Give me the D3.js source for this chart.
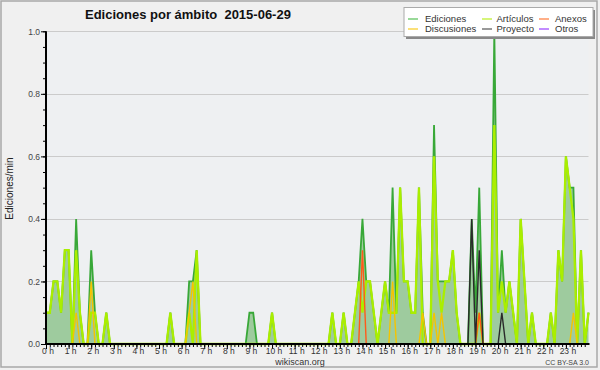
<!DOCTYPE html>
<html><head><meta charset="utf-8">
<script src="https://cdn.jsdelivr.net/npm/d3@7"></script>
<style>
html,body{margin:0;padding:0;background:#f0f0f0;}
svg{display:block;}
text{font-family:"Liberation Sans",Arial,sans-serif;}
</style></head>
<body>
<svg id="chart" width="600" height="370"></svg>
<script>
// 10-minute bins, 00:00 .. 24:00 (145 points), edits per minute
const ediciones = [
 0.1,0.1,0.2,0.2,0.1,0.3,  0.3,0,0.4,0.1,0,0,  0.3,0.1,0,0,0.1,0,  0,0,0,0,0,0,
 0,0,0,0,0,0,  0,0,0,0.1,0,0,  0,0,0.2,0.2,0.3,0,  0,0,0,0,0,0,
 0,0,0,0,0,0,  0.1,0.1,0,0,0,0,  0.1,0,0,0,0,0,  0,0,0,0,0,0,
 0,0,0,0,0.1,0,  0,0.1,0,0,0.1,0.2,  0.4,0.2,0.2,0.1,0,0.1,  0.2,0.1,0.5,0.1,0.5,0.2,
 0.2,0.1,0.1,0.5,0.1,0,  0,0.7,0.2,0.2,0.2,0.2,  0.3,0.1,0,0,0,0.4,  0.1,0.5,0,0,0,1.0,
 0.1,0.3,0.1,0.2,0.1,0,  0.4,0.2,0,0.1,0,0,  0,0,0.1,0,0.3,0.2,  0.6,0.5,0.5,0,0.3,0,
 0.1];
const articulos = [
 0.1,0.1,0.2,0.2,0.1,0.3,  0.3,0,0.3,0.1,0,0,  0.1,0.1,0,0,0.1,0,  0,0,0,0,0,0,
 0,0,0,0,0,0,  0,0,0,0.1,0,0,  0,0,0.1,0,0.3,0,  0,0,0,0,0,0,
 0,0,0,0,0,0,  0,0,0,0,0,0,  0.1,0,0,0,0,0,  0,0,0,0,0,0,
 0,0,0,0,0.1,0,  0,0.1,0,0,0.1,0.2,  0.1,0.2,0.2,0.1,0,0.1,  0.2,0.1,0.1,0.1,0.5,0.2,
 0.2,0.1,0.1,0.5,0,0,  0,0.6,0.2,0.1,0.2,0.2,  0.3,0.1,0,0,0,0,  0,0.1,0,0,0,0.7,
 0.1,0.2,0.1,0.2,0.1,0,  0.4,0.2,0,0.1,0,0,  0,0,0.1,0,0.3,0.2,  0.6,0.5,0.4,0,0.3,0,
 0.1];
const discusiones = [
 0,0,0,0,0,0,  0,0,0.1,0,0,0,  0.2,0,0,0,0,0,  0,0,0,0,0,0,
 0,0,0,0,0,0,  0,0,0,0,0,0,  0,0,0.1,0.2,0,0,  0,0,0,0,0,0,
 0,0,0,0,0,0,  0,0,0,0,0,0,  0,0,0,0,0,0,  0,0,0,0,0,0,
 0,0,0,0,0,0,  0,0,0,0,0,0,  0,0,0,0,0,0,  0,0,0.2,0,0,0,
 0,0,0,0,0.1,0,  0,0.1,0,0.1,0,0,  0,0,0,0,0,0,  0,0,0,0,0,0,
 0,0,0,0,0,0,  0,0,0,0,0,0,  0,0,0,0,0,0,  0,0,0.1,0,0,0,
 0];
const anexos = [
 0,0,0,0,0,0,  0,0,0,0,0,0,  0,0,0,0,0,0,  0,0,0,0,0,0,
 0,0,0,0,0,0,  0,0,0,0,0,0,  0,0,0,0,0,0,  0,0,0,0,0,0,
 0,0,0,0,0,0,  0,0,0,0,0,0,  0,0,0,0,0,0,  0,0,0,0,0,0,
 0,0,0,0,0,0,  0,0,0,0,0,0,  0.3,0,0,0,0,0,  0,0,0,0,0,0,
 0,0,0,0,0,0,  0,0,0,0,0,0,  0,0,0,0,0,0,  0,0.1,0,0,0,0,
 0,0,0,0,0,0,  0,0,0,0,0,0,  0,0,0,0,0,0,  0,0,0,0,0,0,
 0];
const proyecto = [
 0,0,0,0,0,0,  0,0,0,0,0,0,  0,0,0,0,0,0,  0,0,0,0,0,0,
 0,0,0,0,0,0,  0,0,0,0,0,0,  0,0,0,0,0,0,  0,0,0,0,0,0,
 0,0,0,0,0,0,  0,0,0,0,0,0,  0,0,0,0,0,0,  0,0,0,0,0,0,
 0,0,0,0,0,0,  0,0,0,0,0,0,  0,0,0,0,0,0,  0,0,0,0,0,0,
 0,0,0,0,0,0,  0,0,0,0,0,0,  0,0,0,0,0,0.4,  0,0.3,0,0,0,0,
 0,0.1,0,0,0,0,  0,0,0,0,0,0,  0,0,0,0,0,0,  0,0,0,0,0,0,
 0];
const otros = new Array(145).fill(0);
const binsPerHour = 6;
const hourTicks = d3.range(0, 24);
const yTicks = [0, 0.2, 0.4, 0.6, 0.8, 1.0];
const title = "Ediciones por ámbito  2015-06-29";
const legendItems = [
  {name:"Ediciones", color:"#55c055"},
  {name:"Artículos", color:"#bbee22"},
  {name:"Anexos", color:"#ff7a3a"},
  {name:"Discusiones", color:"#f8cc20"},
  {name:"Proyecto", color:"#555555"},
  {name:"Otros", color:"#9a40ff"}
];

const svg = d3.select("#chart");
const W = 600, H = 370;
const x = d3.scaleLinear().domain([0, 24]).range([46, 588.5]);
const y = d3.scaleLinear().domain([0, 1]).range([344, 31.3]);

// frame
svg.append("rect").attr("x",0).attr("y",0).attr("width",W).attr("height",H).attr("fill","#f0f0f0");
svg.append("rect").attr("x",1).attr("y",1).attr("width",596).attr("height",366)
  .attr("fill","none").attr("stroke","#a8a8a8").attr("stroke-width",1.5);
// plot bg
svg.append("rect").attr("x",x(0)).attr("y",y(1)).attr("width",x(24)-x(0)).attr("height",y(0)-y(1))
  .attr("fill","#eef0f2");

// gridlines
svg.append("g").selectAll("line").data(yTicks.filter(d=>d>0)).join("line")
  .attr("x1",x(0)).attr("x2",x(24)).attr("y1",d=>Math.round(y(d))+0.5).attr("y2",d=>Math.round(y(d))+0.5)
  .attr("stroke","#cbcbcb").attr("stroke-width",1.2);

const pts = arr => arr.map((v,i)=>[i/binsPerHour, v]);
const area = d3.area().x(d=>x(d[0])).y0(y(0)).y1(d=>y(d[1]));
const line = d3.line().x(d=>x(d[0])).y(d=>y(d[1]));

svg.append("path").attr("d", area(pts(ediciones))).attr("fill","#9ecb9e");
svg.append("path").attr("d", line(pts(ediciones))).attr("fill","none").attr("stroke","#38a838").attr("stroke-width",1.8);
svg.append("path").attr("d", line(pts(articulos))).attr("fill","none").attr("stroke","#aaee00").attr("stroke-width",2.3);
svg.append("path").attr("d", line(pts(discusiones))).attr("fill","none").attr("stroke","#f5c400").attr("stroke-width",1.4);
svg.append("path").attr("d", line(pts(anexos))).attr("fill","none").attr("stroke","#ff5a1a").attr("stroke-width",1.4);
svg.append("path").attr("d", line(pts(proyecto))).attr("fill","none").attr("stroke","#2a2a2a").attr("stroke-width",1.4);
svg.append("path").attr("d", line(pts(otros))).attr("fill","none").attr("stroke","#9a40ff").attr("stroke-width",1.2).attr("opacity",0);

// axes
const gx = svg.append("g").attr("transform",`translate(0,${y(0)})`);
gx.call(d3.axisBottom(x).tickValues(d3.range(0,24,1/binsPerHour)).tickSize(3).tickFormat(""));
gx.call(g=>g.selectAll(".tick line").attr("stroke","#000"));
const gx2 = svg.append("g").attr("transform",`translate(0,${y(0)})`);
gx2.call(d3.axisBottom(x).tickValues(hourTicks).tickSize(5).tickFormat(d=>d+" h"));
gx2.selectAll(".tick text").attr("font-size",8.5).attr("fill","#333").attr("dx",1.5).attr("y",3.5)
  .attr("font-family","Liberation Sans, Arial, sans-serif");
svg.selectAll(".domain").remove();
svg.append("line").attr("x1",x(0)-1).attr("x2",x(24)+1).attr("y1",y(0)).attr("y2",y(0)).attr("stroke","#000").attr("stroke-width",2);

const gy = svg.append("g").attr("transform",`translate(${x(0)},0)`);
gy.call(d3.axisLeft(y).tickValues(d3.range(0,1.0001,0.05)).tickSize(3).tickFormat(""));
const gy2 = svg.append("g").attr("transform",`translate(${x(0)},0)`);
gy2.call(d3.axisLeft(y).tickValues(yTicks).tickSize(5).tickPadding(1).tickFormat(d3.format(".1f")));
gy2.selectAll(".tick text").attr("font-size",8.5).attr("fill","#444").attr("font-family","Liberation Sans, Arial, sans-serif");
svg.selectAll(".domain").remove();
svg.append("line").attr("x1",x(0)).attr("x2",x(0)).attr("y1",y(1)).attr("y2",y(0)+1).attr("stroke","#000").attr("stroke-width",2);

// title
svg.append("text").attr("x",85).attr("y",18.5).attr("font-size",13).attr("font-weight","bold")
  .attr("fill","#111").style("white-space","pre").text(title);

// y title
svg.append("text").attr("transform","translate(13,188.5) rotate(-90)").attr("text-anchor","middle")
  .attr("font-family","DejaVu Sans Mono, monospace").attr("font-size",10).attr("fill","#222").text("Ediciones/min");

// credits
svg.append("text").attr("x",300).attr("y",364.5).attr("text-anchor","middle").attr("font-size",9)
  .attr("fill","#333").text("wikiscan.org");
svg.append("text").attr("x",589).attr("y",365).attr("text-anchor","end").attr("font-size",7)
  .attr("fill","#444").text("CC BY-SA 3.0");

// legend
const lg = svg.append("g");
lg.append("rect").attr("x",406).attr("y",10).attr("width",189).attr("height",29).attr("fill","#888");
lg.append("rect").attr("x",404).attr("y",7.5).attr("width",189).attr("height",29).attr("fill","#fff").attr("stroke","#aaa").attr("stroke-width",1);
const colX = [408, 482, 539], textX = [425, 496.5, 555], rowY = [19, 29];
legendItems.forEach((it,i)=>{
  const c = i%3, r = Math.floor(i/3);
  lg.append("line").attr("x1",colX[c]).attr("x2",colX[c]+10).attr("y1",rowY[r]).attr("y2",rowY[r])
    .attr("stroke",it.color).attr("stroke-width",1.2);
  lg.append("text").attr("x",textX[c]).attr("y",rowY[r]+3.3).attr("font-size",9.5).attr("fill","#333").text(it.name);
});
</script>
</body></html>
